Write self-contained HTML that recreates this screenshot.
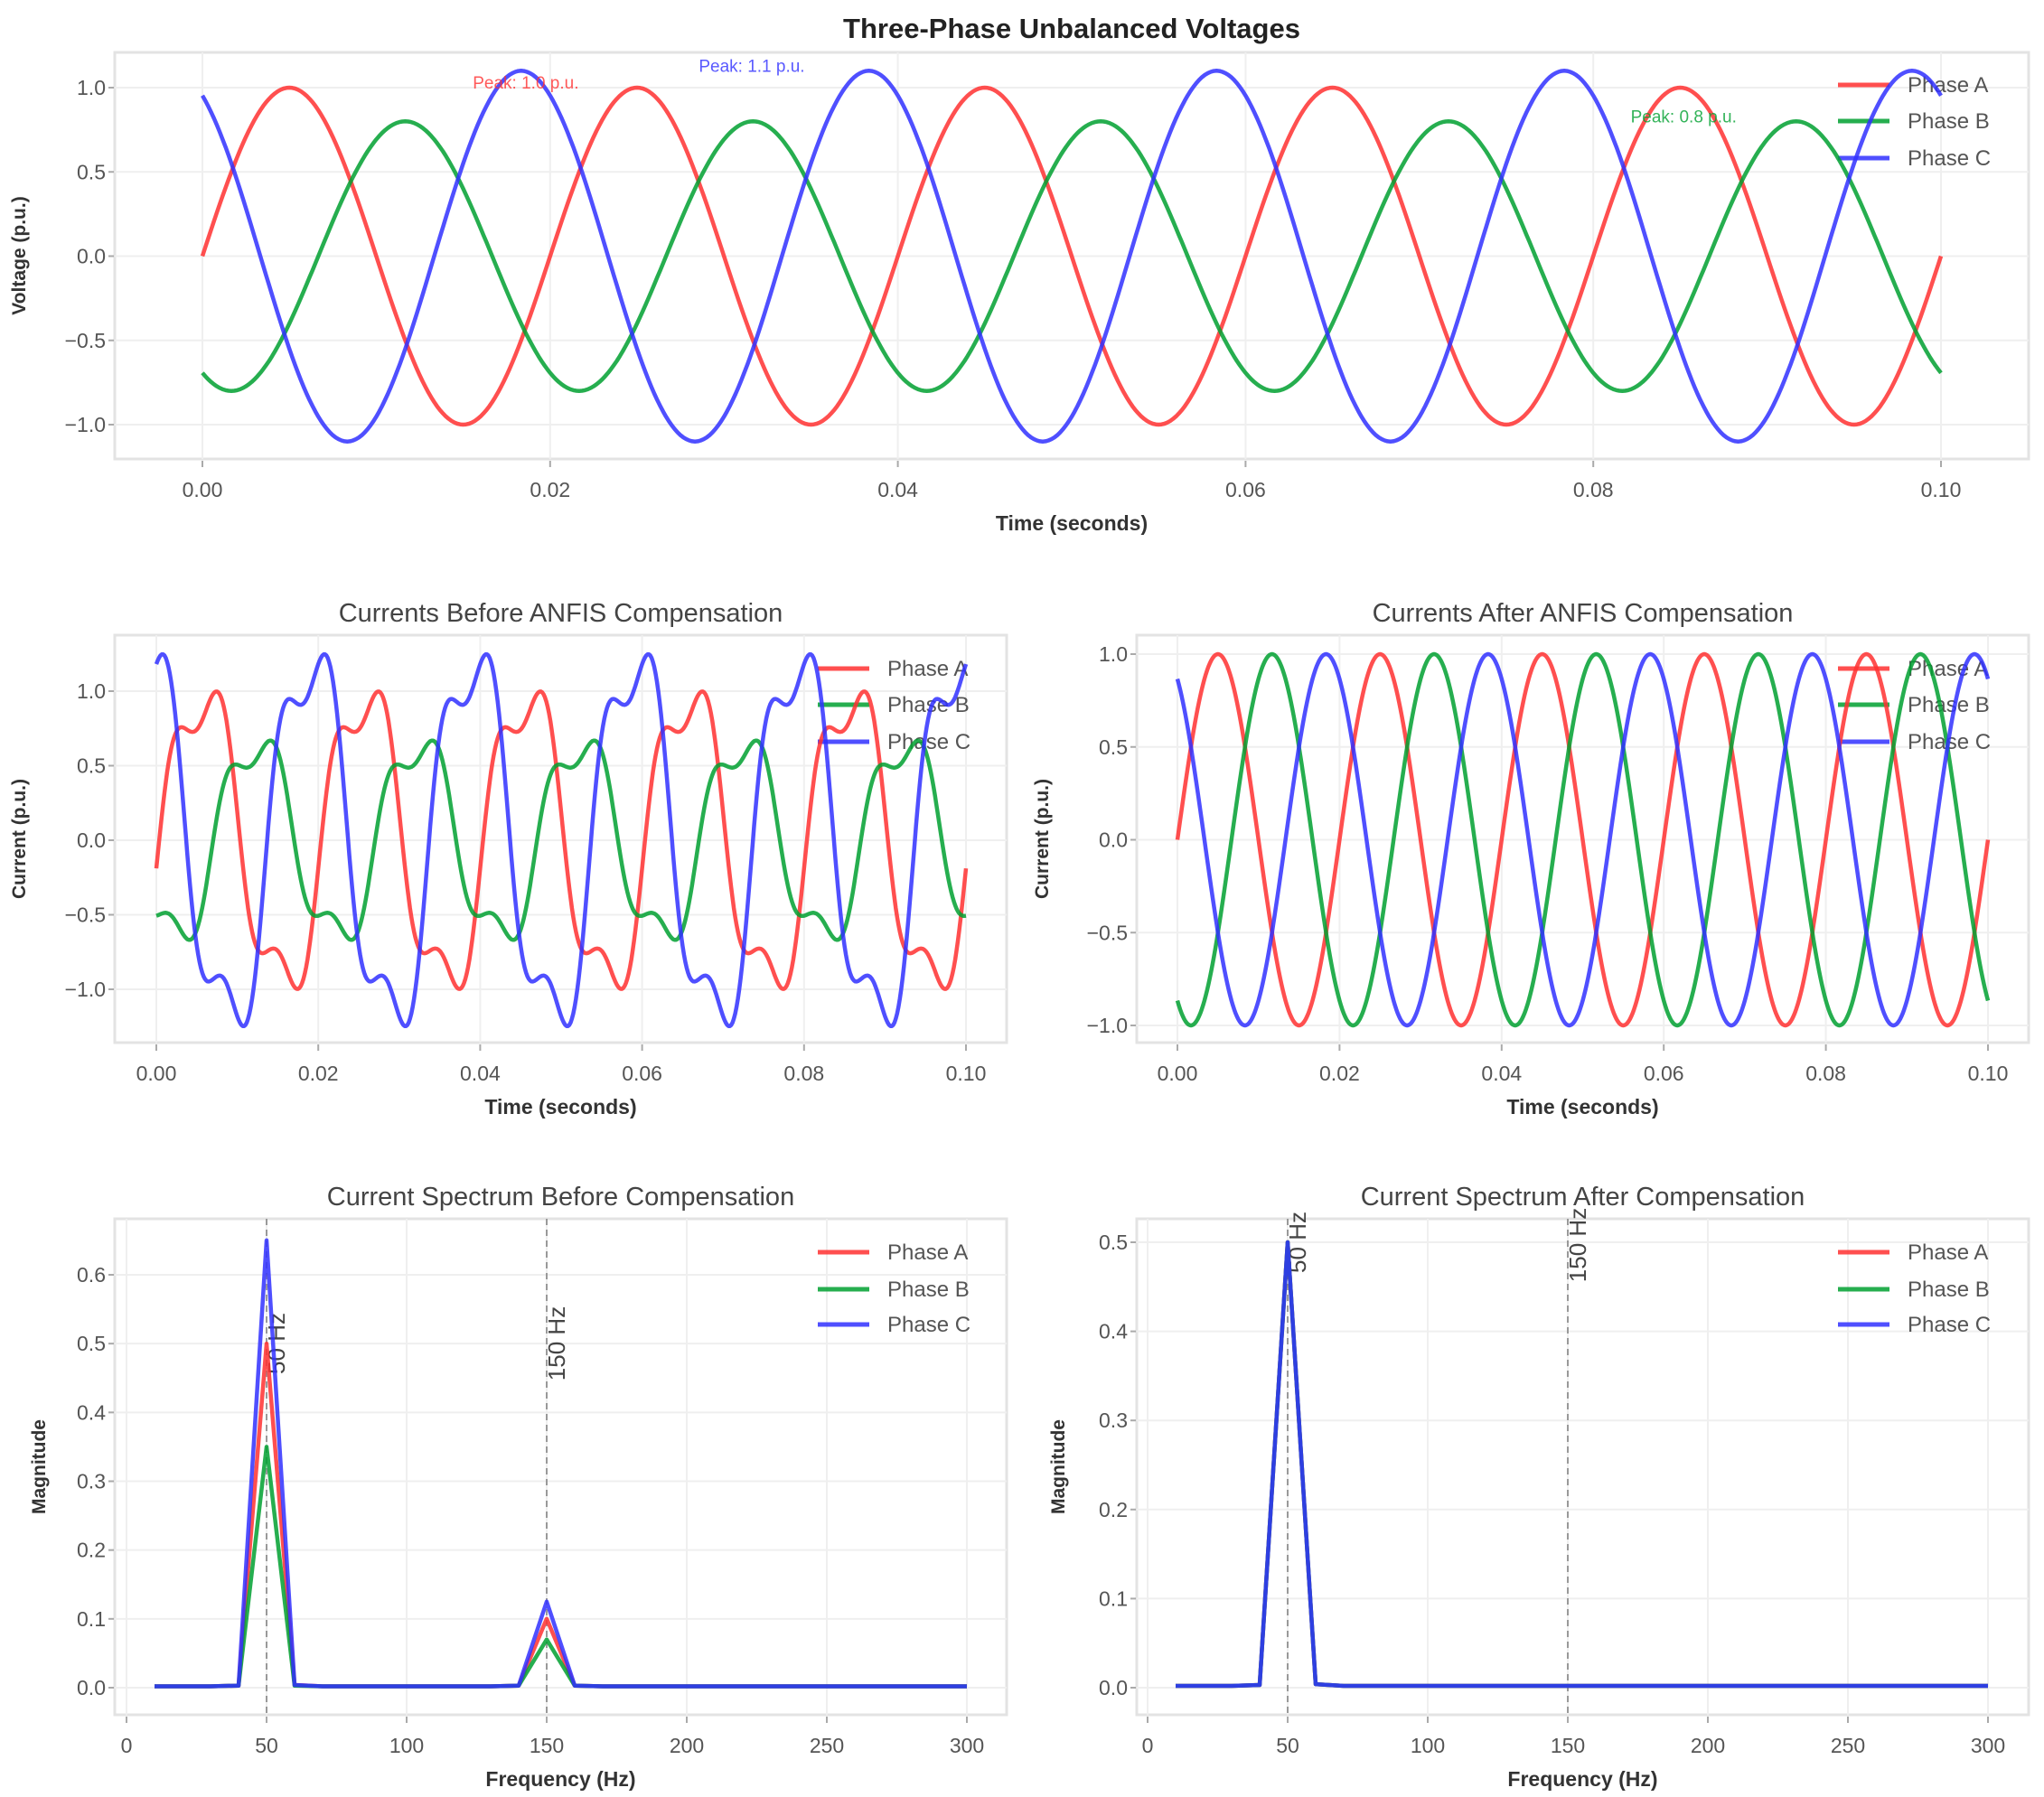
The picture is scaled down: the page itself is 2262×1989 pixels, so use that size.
<!DOCTYPE html>
<html><head><meta charset="utf-8">
<style>
html,body{margin:0;padding:0;background:#fff;}
svg{display:block;font-family:"Liberation Sans",sans-serif;}
</style></head>
<body>
<svg id="fig" width="2262" height="1989" viewBox="0 0 2262 1989" xmlns="http://www.w3.org/2000/svg">
<text x="1186" y="42" text-anchor="middle" font-size="31" font-weight="bold" fill="#222">Three-Phase Unbalanced Voltages</text>
</svg>
<script>
// ---------- data ----------
const phaseNames = ["Phase A","Phase B","Phase C"];
const phaseColors = ["#ff3030","#00a030","#3030ff"];
// voltages: amplitude and phase shift (degrees) of 50 Hz waves
const voltAmp = [1.0, 0.8, 1.1];
const voltPhaseDeg = [0, -120, 120];
// currents before: scale per phase, phase shift, harmonic content
const curBeforeAmp = [1.0, 0.67, 1.25];
const curBeforePhaseDeg = [0, -120, 120];
const harmOrder = [1, 3];
const harmAmp = [1.0, 0.24];
const harmPhaseRad = [-0.19, 0];
// currents after: balanced
const curAfterAmp = [1.0, 1.0, 1.0];
const curAfterPhaseDeg = [0, -120, 120];
// spectra
const freqs = [10,20,30,40,50,60,70,80,90,100,110,120,130,140,150,160,170,180,190,200,210,220,230,240,250,260,270,280,290,300];
const specBeforeA = [0.002,0.002,0.002,0.003,0.50,0.004,0.002,0.002,0.002,0.002,0.002,0.002,0.002,0.003,0.10,0.003,0.002,0.002,0.002,0.002,0.002,0.002,0.002,0.002,0.002,0.002,0.002,0.002,0.002,0.002];
const specBeforeB = [0.002,0.002,0.002,0.003,0.35,0.003,0.002,0.002,0.002,0.002,0.002,0.002,0.002,0.003,0.07,0.003,0.002,0.002,0.002,0.002,0.002,0.002,0.002,0.002,0.002,0.002,0.002,0.002,0.002,0.002];
const specBeforeC = [0.002,0.002,0.002,0.003,0.65,0.004,0.002,0.002,0.002,0.002,0.002,0.002,0.002,0.003,0.125,0.003,0.002,0.002,0.002,0.002,0.002,0.002,0.002,0.002,0.002,0.002,0.002,0.002,0.002,0.002];
const specAfterA = [0.002,0.002,0.002,0.003,0.50,0.004,0.002,0.002,0.002,0.002,0.002,0.002,0.002,0.002,0.002,0.002,0.002,0.002,0.002,0.002,0.002,0.002,0.002,0.002,0.002,0.002,0.002,0.002,0.002,0.002];
const specAfterB = [0.002,0.002,0.002,0.003,0.50,0.004,0.002,0.002,0.002,0.002,0.002,0.002,0.002,0.002,0.002,0.002,0.002,0.002,0.002,0.002,0.002,0.002,0.002,0.002,0.002,0.002,0.002,0.002,0.002,0.002];
const specAfterC = [0.002,0.002,0.002,0.003,0.50,0.004,0.002,0.002,0.002,0.002,0.002,0.002,0.002,0.002,0.002,0.002,0.002,0.002,0.002,0.002,0.002,0.002,0.002,0.002,0.002,0.002,0.002,0.002,0.002,0.002];
const timeTicks = [0,0.02,0.04,0.06,0.08,0.10];
const timeTickLabels = ["0.00","0.02","0.04","0.06","0.08","0.10"];
const voltTicks = [-1.0,-0.5,0.0,0.5,1.0];
const voltTickLabels = ["\u22121.0","\u22120.5","0.0","0.5","1.0"];
const freqTicks = [0,50,100,150,200,250,300];
const freqTickLabels = ["0","50","100","150","200","250","300"];
const specBTicks = [0,0.1,0.2,0.3,0.4,0.5,0.6];
const specBTickLabels = ["0.0","0.1","0.2","0.3","0.4","0.5","0.6"];
const specATicks = [0,0.1,0.2,0.3,0.4,0.5];
const specATickLabels = ["0.0","0.1","0.2","0.3","0.4","0.5"];
const peakLabels = ["Peak: 1.0 p.u.","Peak: 0.8 p.u.","Peak: 1.1 p.u."];
const peakT = [0.0186,0.0852,0.0316];
const peakV = [1.0,0.8,1.1];

// ---------- rendering ----------
const NS="http://www.w3.org/2000/svg";
const svg=document.getElementById('fig');
function mk(tag,attrs,parent){const e=document.createElementNS(NS,tag);for(const k in attrs)e.setAttribute(k,attrs[k]);(parent||svg).appendChild(e);return e;}
const W=2*Math.PI*50;
function wave(t,amp,phDeg){return amp*Math.sin(W*t+phDeg*Math.PI/180);}
function harmWave(t,amp,phDeg){const th=W*t+phDeg*Math.PI/180;let s=0;for(let h=0;h<harmOrder.length;h++)s+=harmAmp[h]*Math.sin(harmOrder[h]*th+harmPhaseRad[h]);return amp*s;}

function panel(cfg){
  const g=mk('g',{});
  
  
  const sx=v=>cfg.x0px+(v-cfg.x0)/(cfg.x1-cfg.x0)*(cfg.x1px-cfg.x0px);
  const sy=v=>cfg.y0px+(v-cfg.y0)/(cfg.y1-cfg.y0)*(cfg.y1px-cfg.y0px);
  const bg=mk('rect',{x:cfg.L,y:cfg.T,width:cfg.R-cfg.L,height:cfg.B-cfg.T,fill:'#fff',stroke:'#e3e3e3','stroke-width':3},g);
  
  
  cfg.xt.forEach((v,i)=>{
    mk('line',{x1:sx(v),x2:sx(v),y1:cfg.T,y2:cfg.B,stroke:'#efefef','stroke-width':2},g);
    mk('line',{x1:sx(v),x2:sx(v),y1:cfg.B+2,y2:cfg.B+9,stroke:'#aaa','stroke-width':2},g);
    const t=mk('text',{x:sx(v),y:cfg.B+42,'text-anchor':'middle','font-size':23,fill:'#555'},g);
    
    
    t.textContent=cfg.xtl[i];
  });
  cfg.yt.forEach((v,i)=>{
    mk('line',{x1:cfg.L,x2:cfg.R,y1:sy(v),y2:sy(v),stroke:'#efefef','stroke-width':2},g);
    mk('line',{x1:cfg.L-7,x2:cfg.L-1,y1:sy(v),y2:sy(v),stroke:'#aaa','stroke-width':2},g);
    const t=mk('text',{x:cfg.L-10,y:sy(v)+8,'text-anchor':'end','font-size':23,fill:'#555'},g);
    
    
    t.textContent=cfg.ytl[i];
  });
  const tt=mk('text',{x:(cfg.L+cfg.R)/2,y:cfg.titleY,'text-anchor':'middle','font-size':29,fill:'#444'},g);
  
  
  tt.textContent=cfg.title||'';
  const xt=mk('text',{x:(cfg.L+cfg.R)/2,y:cfg.B+79,'text-anchor':'middle','font-size':23,'font-weight':'bold',fill:'#333'},g);
  
  
  xt.textContent=cfg.xlabel;
  const yt=mk('text',{x:0,y:0,'text-anchor':'middle','font-size':21,'font-weight':'bold',fill:'#333',transform:`translate(${cfg.ylabX},${(cfg.T+cfg.B)/2}) rotate(-90)`},g);
  
  
  yt.textContent=cfg.ylabel;
  return {g,sx,sy,T:cfg.T,B:cfg.B};
}
function legend(g,xl,ys){
  phaseNames.forEach((n,i)=>{
    const lg=mk('g',{},g);
    
    
    mk('line',{x1:xl,x2:xl+57,y1:ys[i],y2:ys[i],stroke:phaseColors[i],'stroke-width':5,'stroke-opacity':0.85},lg);
    const t=mk('text',{x:xl+77,y:ys[i]+8,'font-size':24,fill:'#555'},lg);
    t.textContent=n;
  });
}
function drawSeries(p,xs,ys,i,name){
  let d='';
  for(let k=0;k<xs.length;k++)d+=(k?'L':'M')+p.sx(xs[k]).toFixed(1)+','+p.sy(ys[k]).toFixed(1);
  const e=mk('path',{d,fill:'none',stroke:phaseColors[i],'stroke-width':4.5,'stroke-opacity':0.85,'stroke-linejoin':'round'},p.g);
  
  
}
const tSamples=[];for(let k=0;k<=600;k++)tSamples.push(k*0.1/600);

// top voltage panel
const P1=panel({name:'voltage-panel',L:127,R:2245,T:58,B:508,x0:0,x1:0.1,x0px:224,x1px:2148,y0:-1,y1:1,y0px:470,y1px:97,
  xt:timeTicks,xtl:timeTickLabels,yt:voltTicks,ytl:voltTickLabels,title:'',titleY:0,xlabel:'Time (seconds)',ylabel:'Voltage (p.u.)',ylabX:28});
legend(P1.g,2034,[94,134,175]);
for(let i=0;i<3;i++)drawSeries(P1,tSamples,tSamples.map(t=>wave(t,voltAmp[i],voltPhaseDeg[i])),i,'voltage-line-'+String.fromCharCode(97+i));
[0,2,1].forEach(i=>{
  const a=mk('text',{x:P1.sx(peakT[i]),y:P1.sy(peakV[i])+1,'text-anchor':'middle','font-size':19,fill:phaseColors[i],'fill-opacity':0.8},P1.g);
  
  
  a.textContent=peakLabels[i];
});

// currents before
const P2=panel({name:'currents-before-panel',L:127,R:1114,T:703,B:1154,x0:0,x1:0.1,x0px:173,x1px:1069,y0:-1,y1:1,y0px:1095,y1px:765,
  xt:timeTicks,xtl:timeTickLabels,yt:voltTicks,ytl:voltTickLabels,title:'Currents Before ANFIS Compensation',titleY:688,xlabel:'Time (seconds)',ylabel:'Current (p.u.)',ylabX:28});
legend(P2.g,905,[740,780,821]);
for(let i=0;i<3;i++)drawSeries(P2,tSamples,tSamples.map(t=>harmWave(t,curBeforeAmp[i],curBeforePhaseDeg[i])),i,'current-before-line-'+String.fromCharCode(97+i));

// currents after
const P3=panel({name:'currents-after-panel',L:1258,R:2245,T:703,B:1154,x0:0,x1:0.1,x0px:1303,x1px:2200,y0:-1,y1:1,y0px:1135,y1px:724,
  xt:timeTicks,xtl:timeTickLabels,yt:voltTicks,ytl:voltTickLabels,title:'Currents After ANFIS Compensation',titleY:688,xlabel:'Time (seconds)',ylabel:'Current (p.u.)',ylabX:1160});
legend(P3.g,2034,[740,780,821]);
for(let i=0;i<3;i++)drawSeries(P3,tSamples,tSamples.map(t=>wave(t,curAfterAmp[i],curAfterPhaseDeg[i])),i,'current-after-line-'+String.fromCharCode(97+i));

function marker(p,f,ty,label){
  const l=mk('line',{x1:p.sx(f),x2:p.sx(f),y1:p.T,y2:p.B,stroke:'#999','stroke-width':2,'stroke-dasharray':'7,5'},p.g);
  
  
  const t=mk('text',{x:0,y:0,'text-anchor':'middle','font-size':26,fill:'#444',transform:`translate(${p.sx(f)+20},${ty}) rotate(-90)`},p.g);
  
  
  t.textContent=label;
}
// spectrum before
const P4=panel({name:'spectrum-before-panel',L:127,R:1114,T:1349,B:1898,x0:0,x1:300,x0px:140,x1px:1070,y0:0,y1:0.6,y0px:1868,y1px:1411,
  xt:freqTicks,xtl:freqTickLabels,yt:specBTicks,ytl:specBTickLabels,title:'Current Spectrum Before Compensation',titleY:1334,xlabel:'Frequency (Hz)',ylabel:'Magnitude',ylabX:50});
marker(P4,50,1487,'50 Hz');marker(P4,150,1487,'150 Hz');
legend(P4.g,905,[1386,1427,1466]);
drawSeries(P4,freqs,specBeforeA,0,'spectrum-before-a');
drawSeries(P4,freqs,specBeforeB,1,'spectrum-before-b');
drawSeries(P4,freqs,specBeforeC,2,'spectrum-before-c');

// spectrum after
const P5=panel({name:'spectrum-after-panel',L:1258,R:2245,T:1349,B:1898,x0:0,x1:300,x0px:1270,x1px:2200,y0:0,y1:0.5,y0px:1868,y1px:1375,
  xt:freqTicks,xtl:freqTickLabels,yt:specATicks,ytl:specATickLabels,title:'Current Spectrum After Compensation',titleY:1334,xlabel:'Frequency (Hz)',ylabel:'Magnitude',ylabX:1178});
marker(P5,50,1375,'50 Hz');marker(P5,150,1378,'150 Hz');
legend(P5.g,2034,[1386,1427,1466]);
drawSeries(P5,freqs,specAfterA,0,'spectrum-after-a');
drawSeries(P5,freqs,specAfterB,1,'spectrum-after-b');
drawSeries(P5,freqs,specAfterC,2,'spectrum-after-c');
</script>
</body></html>
